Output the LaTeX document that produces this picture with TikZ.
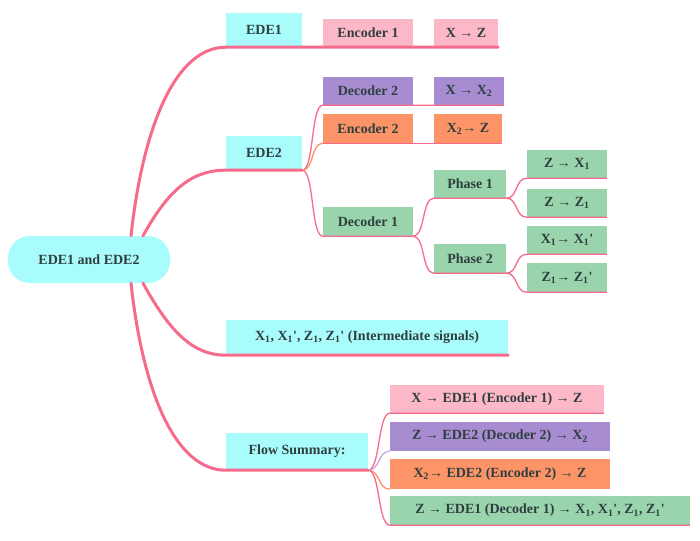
\documentclass[tikz,border=0pt]{standalone}
\usepackage{fontspec}
\setmainfont{Liberation Serif}
\definecolor{cy}{HTML}{A8FCFC}
\definecolor{pk}{HTML}{FDB8C8}
\definecolor{pu}{HTML}{A78CD2}
\definecolor{og}{HTML}{FC9468}
\definecolor{gr}{HTML}{9AD4AC}
\definecolor{br}{HTML}{F76A8C}
\definecolor{txt}{HTML}{2F3F3F}
\newcommand{\mybox}[7]{%
  \node[box,fill=#6,minimum width={#4-#2},minimum height={#5-#3}] (#1) at ({(#2+#4)/2},{(#3+#5)/2}) {#7};}
\newcommand{\sbs}[1]{\textsubscript{#1}}
\newcommand{\pr}{\textquotesingle}
\tikzset{box/.style={inner sep=0pt,font=\fontsize{14}{16}\selectfont\bfseries,text=txt},
  main/.style={line width=3pt,br,line cap=round},
  sub/.style={line width=1.3pt,br}}
\begin{document}
\begin{tikzpicture}[x=1pt,y=-1pt]
\useasboundingbox (0,0) rectangle (700,540);
\node[box,fill=cy,rounded corners=22pt,minimum width=162,minimum height=47] (root) at (89,259.5) {EDE1 and EDE2};
\mybox{ede1}{226}{13}{302}{47}{cy}{EDE1}
\mybox{enc1}{323}{19}{413}{47}{pk}{Encoder 1}
\mybox{xz}{434}{19}{498}{47}{pk}{X → Z}
\mybox{ede2}{226}{136}{302}{170}{cy}{EDE2}
\mybox{dec2}{323}{77}{413}{105}{pu}{Decoder 2}
\mybox{xx2}{434}{77}{504}{105}{pu}{X → X\sbs{2}}
\mybox{enc2}{323}{114}{413}{143}{og}{Encoder 2}
\mybox{x2z}{434}{114}{502}{143}{og}{X\sbs{2}→ Z}
\mybox{dec1}{323}{207}{413}{236}{gr}{Decoder 1}
\mybox{ph1}{434}{170}{506}{198}{gr}{Phase 1}
\mybox{ph2}{434}{244}{506}{273}{gr}{Phase 2}
\mybox{zx1}{527}{150}{607}{178}{gr}{Z → X\sbs{1}}
\mybox{zz1}{527}{189}{607}{217}{gr}{Z → Z\sbs{1}}
\mybox{xx1}{527}{226}{607}{254}{gr}{X\sbs{1}→ X\sbs{1}\pr}
\mybox{zz1p}{527}{263}{607}{292}{gr}{Z\sbs{1}→ Z\sbs{1}\pr}
\mybox{inter}{226}{320}{508}{355}{cy}{X\sbs{1}, X\sbs{1}\pr, Z\sbs{1}, Z\sbs{1}\pr\ (Intermediate signals)}
\mybox{flow}{226}{433}{368}{470}{cy}{Flow Summary:}
\mybox{f1}{390}{385}{604}{413}{pk}{X → EDE1 (Encoder 1) → Z}
\mybox{f2}{390}{422}{610}{451}{pu}{Z → EDE2 (Decoder 2) → X\sbs{2}}
\mybox{f3}{390}{459}{610}{489}{og}{X\sbs{2}→ EDE2 (Encoder 2) → Z}
\mybox{f4}{390}{496}{690}{525}{gr}{Z → EDE1 (Decoder 1) → X\sbs{1}, X\sbs{1}\pr, Z\sbs{1}, Z\sbs{1}\pr}
\draw[main] ([xshift=42]root.north) .. controls +(12,-110) and +(-50,0) .. (ede1.south west) -- (xz.south east);
\draw[main] ([xshift=54]root.north) .. controls +(25,-45) and +(-35,0) .. (ede2.south west) -- (ede2.south east);
\draw[main] ([xshift=54]root.south) .. controls +(25,45) and +(-35,0) .. (inter.south west) -- (inter.south east);
\draw[main] ([xshift=42]root.south) .. controls +(12,110) and +(-50,0) .. (flow.south west) -- (flow.south east);
\draw[sub] (ede2.south east) .. controls +(12,0) and +(-12,0) .. (dec2.south west) -- (xx2.south east);
\draw[sub,og] (ede2.south east) .. controls +(12,0) and +(-12,0) .. (enc2.south west);
\draw[sub] (enc2.south west) -- (x2z.south east);
\draw[sub] (ede2.south east) .. controls +(12,0) and +(-12,0) .. (dec1.south west) -- (dec1.south east);
\draw[sub] (dec1.south east) .. controls +(12,0) and +(-12,0) .. (ph1.south west) -- (ph1.south east);
\draw[sub] (dec1.south east) .. controls +(12,0) and +(-12,0) .. (ph2.south west) -- (ph2.south east);
\draw[sub] (ph1.south east) .. controls +(12,0) and +(-12,0) .. (zx1.south west) -- (zx1.south east);
\draw[sub] (ph1.south east) .. controls +(12,0) and +(-12,0) .. (zz1.south west) -- (zz1.south east);
\draw[sub] (ph2.south east) .. controls +(12,0) and +(-12,0) .. (xx1.south west) -- (xx1.south east);
\draw[sub] (ph2.south east) .. controls +(12,0) and +(-12,0) .. (zz1p.south west) -- (zz1p.south east);
\draw[sub] (flow.south east) .. controls +(12,0) and +(-12,0) .. (f1.south west) -- (f1.south east);
\draw[sub,pu!70] (flow.south east) .. controls +(12,0) and +(-12,0) .. (f2.south west);
\draw[sub,og] (flow.south east) .. controls +(12,0) and +(-12,0) .. (f3.south west);
\draw[sub] (flow.south east) .. controls +(12,0) and +(-12,0) .. (f4.south west) -- (f4.south east);
\end{tikzpicture}
\end{document}
